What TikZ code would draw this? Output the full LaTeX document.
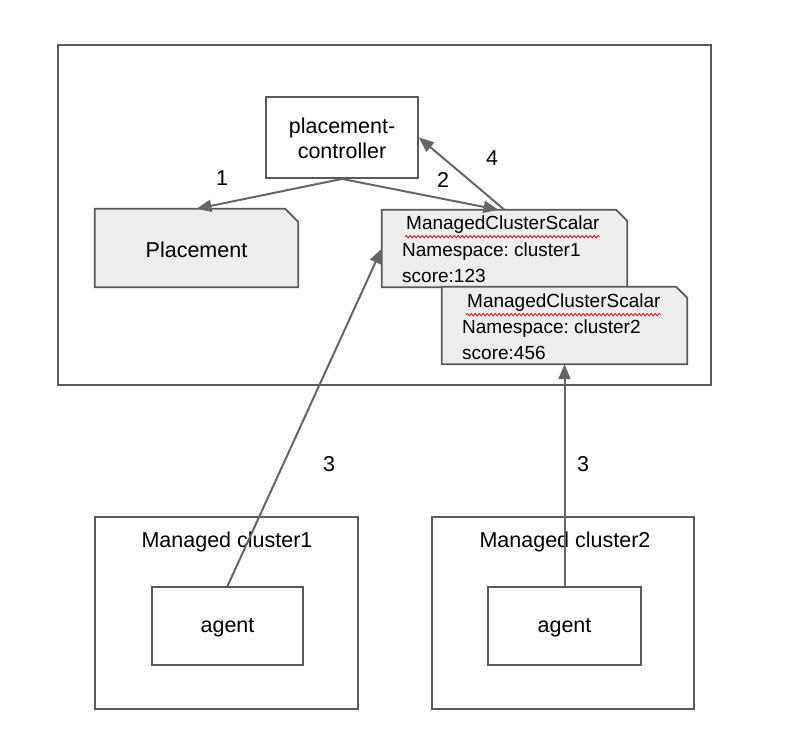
\documentclass[tikz,border=0pt]{standalone}
\usepackage{fontspec}
\setmainfont{Liberation Sans}
\usetikzlibrary{arrows.meta,calc,decorations.pathmorphing}
\definecolor{linegray}{HTML}{666666}
\definecolor{boxgray}{HTML}{595959}
\definecolor{notefill}{HTML}{EEEEEE}
\tikzset{
  box/.style={draw=boxgray, line width=1.8pt, rectangle, inner sep=0pt},
  ghost/.style={rectangle, inner sep=0pt},
  bigtxt/.style={font=\fontsize{21.5}{25}\selectfont, inner sep=0pt, align=center},
  smalltxt/.style={font=\fontsize{19}{23}\selectfont, inner sep=0pt, anchor=base west},
  numlbl/.style={font=\fontsize{21.5}{25}\selectfont, inner sep=0pt},
  conn/.style={draw=linegray, line width=2pt, -{Triangle[length=15pt,width=12pt]}},
  notepath/.style={draw=boxgray, line width=1.8pt, fill=notefill, line join=miter},
  squiggle/.style={draw=red!90!black, line width=0.8pt, decorate, decoration={snake, amplitude=1.2pt, segment length=4pt}}
}
\begin{document}
\frenchspacing
\begin{tikzpicture}[x=1pt,y=-1pt]
\useasboundingbox (0,0) rectangle (812,748);
\fill[white] (0,0) rectangle (812,748);

% outer region
\node[box, minimum width=653pt, minimum height=340pt] (outer) at (384.5,215) {};

% placement-controller
\node[box, fill=white, minimum width=152pt, minimum height=81pt] (pc) at (342,137.5) {};
\node[bigtxt] (pctxt) at (342,138) {placement-\\controller};

% Placement (folded note)
\node[ghost, minimum width=203pt, minimum height=78pt] (pl) at (196.5,248) {};
\path[notepath] (pl.south west) -- (pl.north west) -- ($(pl.north east)+(-13,0)$) -- ($(pl.north east)+(0,13)$) -- (pl.south east) -- cycle;
\node[bigtxt] (pltxt) at (196.5,250) {Placement};

% ManagedClusterScalar 1
\node[ghost, minimum width=245pt, minimum height=77pt] (mcs1) at (504.5,248.5) {};
\path[notepath] (mcs1.south west) -- (mcs1.north west) -- ($(mcs1.north east)+(-11,0)$) -- ($(mcs1.north east)+(0,11)$) -- (mcs1.south east) -- cycle;
\node[smalltxt] (m1a) at (406,229) {ManagedClusterScalar};
\node[smalltxt] (m1b) at (402,256) {Namespace: cluster1};
\node[smalltxt] (m1c) at (402,282) {score:123};
\draw[squiggle] ($(m1a.south west)+(-1,3.5)$) -- ($(m1a.south east)+(0,3.5)$);

% ManagedClusterScalar 2
\node[ghost, minimum width=245pt, minimum height=77pt] (mcs2) at (564.5,325.5) {};
\path[notepath] (mcs2.south west) -- (mcs2.north west) -- ($(mcs2.north east)+(-11,0)$) -- ($(mcs2.north east)+(0,11)$) -- (mcs2.south east) -- cycle;
\node[smalltxt] (m2a) at (467,307) {ManagedClusterScalar};
\node[smalltxt] (m2b) at (462,333) {Namespace: cluster2};
\node[smalltxt] (m2c) at (462,359) {score:456};
\draw[squiggle] ($(m2a.south west)+(-1,3.5)$) -- ($(m2a.south east)+(0,3.5)$);

% Managed clusters
\node[box, minimum width=263pt, minimum height=192pt] (mc1) at (226.5,613) {};
\node[bigtxt] (mc1txt) at (227,542) {Managed cluster1};
\node[box, minimum width=151pt, minimum height=78pt] (ag1) at (227.5,626) {};
\node[bigtxt] (ag1txt) at (227.5,628) {agent};

\node[box, minimum width=262pt, minimum height=192pt] (mc2) at (563,613) {};
\node[bigtxt] (mc2txt) at (565,542) {Managed cluster2};
\node[box, minimum width=153pt, minimum height=78pt] (ag2) at (564.5,626) {};
\node[bigtxt] (ag2txt) at (564.5,628) {agent};

% connectors
\draw[conn] (pc.south) -- (pl.north);
\draw[conn] (pc.south) -- ($(mcs1.north)+(-6,0)$);
\draw[conn] (mcs1.north) -- (pc.east);
\draw[conn] (ag1.north) -- (mcs1.west);
\draw[conn] (ag2.north) -- (mcs2.south);

% labels
\node[numlbl] (l1) at (222,178) {1};
\node[numlbl] (l2) at (443,180) {2};
\node[numlbl] (l4) at (492,158) {4};
\node[numlbl] (l3a) at (329,464) {3};
\node[numlbl] (l3b) at (583,464) {3};
\end{tikzpicture}
\end{document}
